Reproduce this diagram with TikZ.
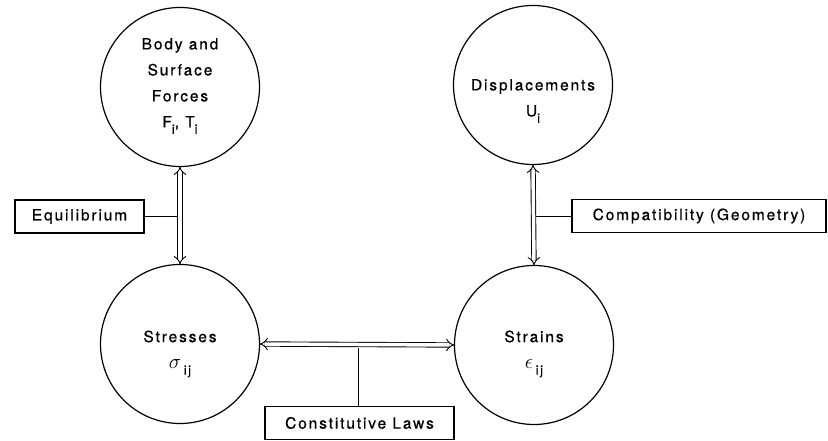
\documentclass[tikz,border=0pt]{standalone}
\usepackage{fontspec}
\setmainfont[LetterSpace=12,FakeBold=0.7]{TeX Gyre Heros}
\usetikzlibrary{arrows.meta,calc}
\newcommand\subx[1]{\raisebox{-0.8ex}{\fontsize{13}{13}\selectfont #1}}
\newcommand\grk[1]{{\fontsize{21}{21}\selectfont$#1$}}
\begin{document}
\begin{tikzpicture}[x=1pt,y=1pt,
 bub/.style={circle, draw, line width=1.2pt, minimum size=159pt, inner sep=0pt, outer sep=0pt},
 lbl/.style={draw, line width=1.2pt, minimum height=33pt, inner sep=0pt, outer sep=0pt, font=\fontsize{15.5}{16}\selectfont},
 txt/.style={font=\fontsize{15.5}{26}\selectfont, align=center, inner sep=0pt},
 dbl/.style={double, double distance=3.5pt, line width=0.9pt, {Implies[scale=1.5]}-{Implies[scale=1.5]}},
 lnk/.style={line width=0.9pt}]
\useasboundingbox (0,0) rectangle (828,441);
\node[bub] (c1) at (180,354) {};
\node[bub] (c2) at (533,356) {};
\node[bub] (c3) at (180,97) {};
\node[bub] (c4) at (534,96) {};
\node[txt] (t1) at (180,355) {Body and\\Surface\\Forces\\F\subx{i}, T\subx{i}};
\node[txt] (t2) at (533,340) {Displacements\\U\subx{i}};
\node[txt] (t3) at (180,87) {Stresses\\\grk{\sigma}\,\subx{ij}};
\node[txt] (t4) at (534,87) {Strains\\\grk{\epsilon}\,\subx{ij}};
\node[lbl, minimum width=129pt] (eq) at (79.5,224.5) {Equilibrium};
\node[lbl, minimum width=254pt] (cp) at (699,225) {Compatibility (Geometry)};
\node[lbl, minimum width=189pt] (cl) at (359.5,18) {Constitutive Laws};
\draw[dbl] (c1.south) -- (c3.north);
\draw[dbl] (c2.south) -- (c4.north);
\draw[dbl] (c3.east) -- (c4.west);
\coordinate (m1) at ($(c1.south)!0.5!(c3.north)$);
\coordinate (m2) at ($(c2.south)!0.5!(c4.north)$);
\coordinate (m3) at (358,96);
\draw[lnk, shorten >=2.6pt] (eq.east) -- (eq.east -| m1);
\draw[lnk, shorten >=2.6pt] (cp.west) -- (cp.west -| m2);
\draw[lnk, shorten >=2.6pt] (cl.north -| m3) -- (m3);
\end{tikzpicture}
\end{document}
